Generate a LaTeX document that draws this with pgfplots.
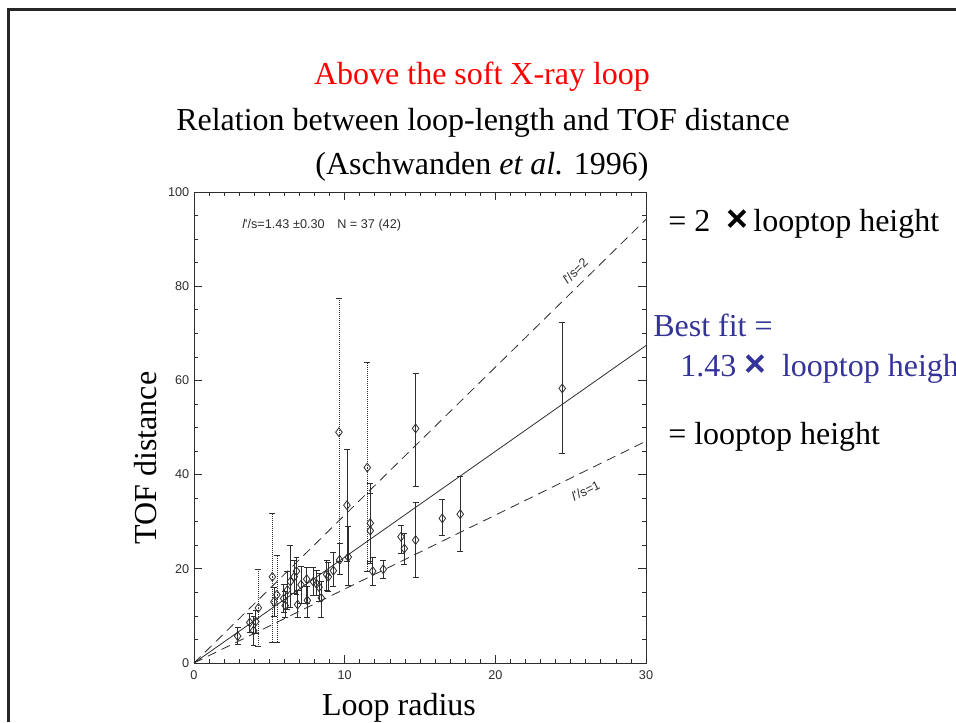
\documentclass[border=0pt]{standalone}
\usepackage{fontspec}
\setmainfont{Liberation Serif}
\newfontfamily\plotfont{Liberation Sans}
\usepackage{pgfplots}
\pgfplotsset{compat=1.18}
\definecolor{slideblue}{RGB}{51,51,153}
\definecolor{ink}{RGB}{45,45,45}

\newcommand{\bigtimes}{{\plotfont\bfseries\fontsize{28}{28}\selectfont ×}}

\begin{document}
\begin{tikzpicture}
\path[use as bounding box] (0,0) rectangle (717pt,541.5pt);
\begin{axis}[
  at={(145.5pt,44.25pt)}, anchor=south west,
  scale only axis, width=339pt, height=353.25pt,
  xmin=0, xmax=30, ymin=0, ymax=100,
  xtick={0,10,20,30}, ytick={0,20,...,100},
  minor x tick num=9, minor y tick num=3,
  tick align=inside,
  major tick length=6pt, minor tick length=3pt,
  axis line style={ink, line width=0.6pt},
  every tick/.style={ink, line width=0.5pt},
  tick label style={font=\plotfont\fontsize{9.5}{11}\selectfont, text=ink},
  xticklabel style={yshift=-2pt},
  /pgf/number format/assume math mode=true,
  clip=false,
]
% reference lines l'/s = 2, fit 1.43, l'/s = 1
\addplot[ink, line width=0.6pt, dash pattern=on 7pt off 4.5pt] coordinates {(0,0) (30,94.2)};
\addplot[ink, line width=0.6pt] coordinates {(0,0) (30,67.4)};
\addplot[ink, line width=0.6pt, dash pattern=on 7pt off 4.5pt] coordinates {(0,0) (30,47.1)};

% measurements with solid error bars
\addplot[only marks, mark=diamond, mark size=3.3pt, ink, mark options={line width=0.6pt},
  error bars/.cd, y dir=both, y explicit,
  error bar style={ink, line width=0.5pt},
  error mark options={rotate=90, mark size=2.2pt, ink}]
coordinates {
(2.9,5.7) += (0,1.8) -= (0,1.7)
(3.7,8.6) += (0,2.0) -= (0,2.0)
(3.95,6.9) += (0,3.0) -= (0,3.2)
(4.1,8.8) += (0,2.5) -= (0,2.5)
(5.3,13.0) += (0,3.0) -= (0,3.0)
(5.95,13.7) += (0,3.0) -= (0,3.0)
(6.05,12.2) += (0,3.0) -= (0,2.4)
(6.2,15.5) += (0,4.0) -= (0,4.0)
(6.4,17.3) += (0,7.8) -= (0,5.5)
(6.65,18.3) += (0,3.5) -= (0,3.5)
(6.8,19.5) += (0,3.0) -= (0,5.0)
(6.88,12.4) += (0,3.1) -= (0,2.6)
(7.1,16.6) += (0,4.0) -= (0,4.0)
(7.48,17.8) += (0,2.6) -= (0,5.1)
(7.52,13.3) += (0,3.0) -= (0,3.5)
(7.92,17.3) += (0,3.0) -= (0,3.0)
(8.14,16.8) += (0,2.9) -= (0,2.4)
(8.3,16.1) += (0,3.0) -= (0,3.0)
(8.45,13.8) += (0,3.5) -= (0,4.0)
(8.8,18.8) += (0,3.1) -= (0,3.3)
(8.92,18.3) += (0,3.0) -= (0,3.0)
(9.25,19.6) += (0,4.0) -= (0,3.4)
(9.67,21.9) += (0,3.5) -= (0,3.0)
(10.15,33.5) += (0,11.9) -= (0,12.0)
(10.24,22.5) += (0,6.5) -= (0,5.9)
(11.7,29.7) += (0,8.5) -= (0,8.0)
(11.7,28.1) += (0,8.0) -= (0,7.0)
(11.86,19.5) += (0,3.0) -= (0,3.0)
(12.56,19.9) += (0,2.0) -= (0,1.9)
(13.74,26.8) += (0,2.5) -= (0,3.4)
(13.96,24.3) += (0,3.2) -= (0,3.3)
(14.71,49.8) += (0,11.8) -= (0,12.2)
(14.71,26.1) += (0,8.0) -= (0,7.8)
(16.48,30.7) += (0,4.1) -= (0,3.5)
(17.67,31.6) += (0,8.0) -= (0,7.8)
(24.44,58.3) += (0,14.0) -= (0,13.8)
};

% measurements with dotted error bars
\addplot[only marks, mark=diamond, mark size=3.3pt, ink, mark options={line width=0.6pt},
  error bars/.cd, y dir=both, y explicit,
  error bar style={ink, line width=0.5pt, densely dotted},
  error mark options={rotate=90, mark size=2.2pt, ink}]
coordinates {
(4.27,11.7) += (0,8.2) -= (0,8.2)
(5.2,18.3) += (0,13.5) -= (0,13.8)
(5.5,14.5) += (0,8.4) -= (0,10.0)
(9.62,49.0) += (0,28.5) -= (0,27.5)
(11.5,41.5) += (0,22.3) -= (0,22.0)
};

\node[anchor=west, font=\plotfont\fontsize{9.5}{11}\selectfont, text=ink] at (axis cs:2.9,93) {{\itshape l}'/s=1.43 ±0.30\quad N = 37 (42)};
\node[font=\plotfont\fontsize{9.5}{11}\selectfont, text=ink, rotate=44.5, inner sep=1pt] at (axis cs:25.3,83.2) {{\itshape l}'/s=2};
\node[font=\plotfont\fontsize{9.5}{11}\selectfont, text=ink, rotate=26, inner sep=1pt] at (axis cs:26.0,36.6) {{\itshape l}'/s=1};
\end{axis}

\begin{scope}[x=0.75pt,y=0.75pt]
\draw[line width=2.2pt, black!85] (8.5,0) -- (8.5,712.5) -- (960,712.5);
\begin{scope}[every node/.style={font=\fontsize{24}{28}\selectfont, inner sep=0pt}]
\node[anchor=base, text=red] at (482,637) {Above the soft X-ray loop};
\node[anchor=base] at (483,591) {Relation between loop-length and TOF distance};
\node[anchor=base] at (482,547) {(Aschwanden \textit{et al.} 1996)};
\node[anchor=base west] at (668,490) {= 2\enspace\bigtimes\,looptop height};
\node[anchor=base west, text=slideblue] at (653,385) {Best fit =};
\node[anchor=base west, text=slideblue] at (680,346) {1.43\ \bigtimes\ \ looptop height};
\node[anchor=base west] at (668,278) {= looptop height};
\node[rotate=90] at (146,264) {TOF distance};
\node[anchor=base] at (399,7) {Loop radius};
\end{scope}
\end{scope}
\end{tikzpicture}
\end{document}
